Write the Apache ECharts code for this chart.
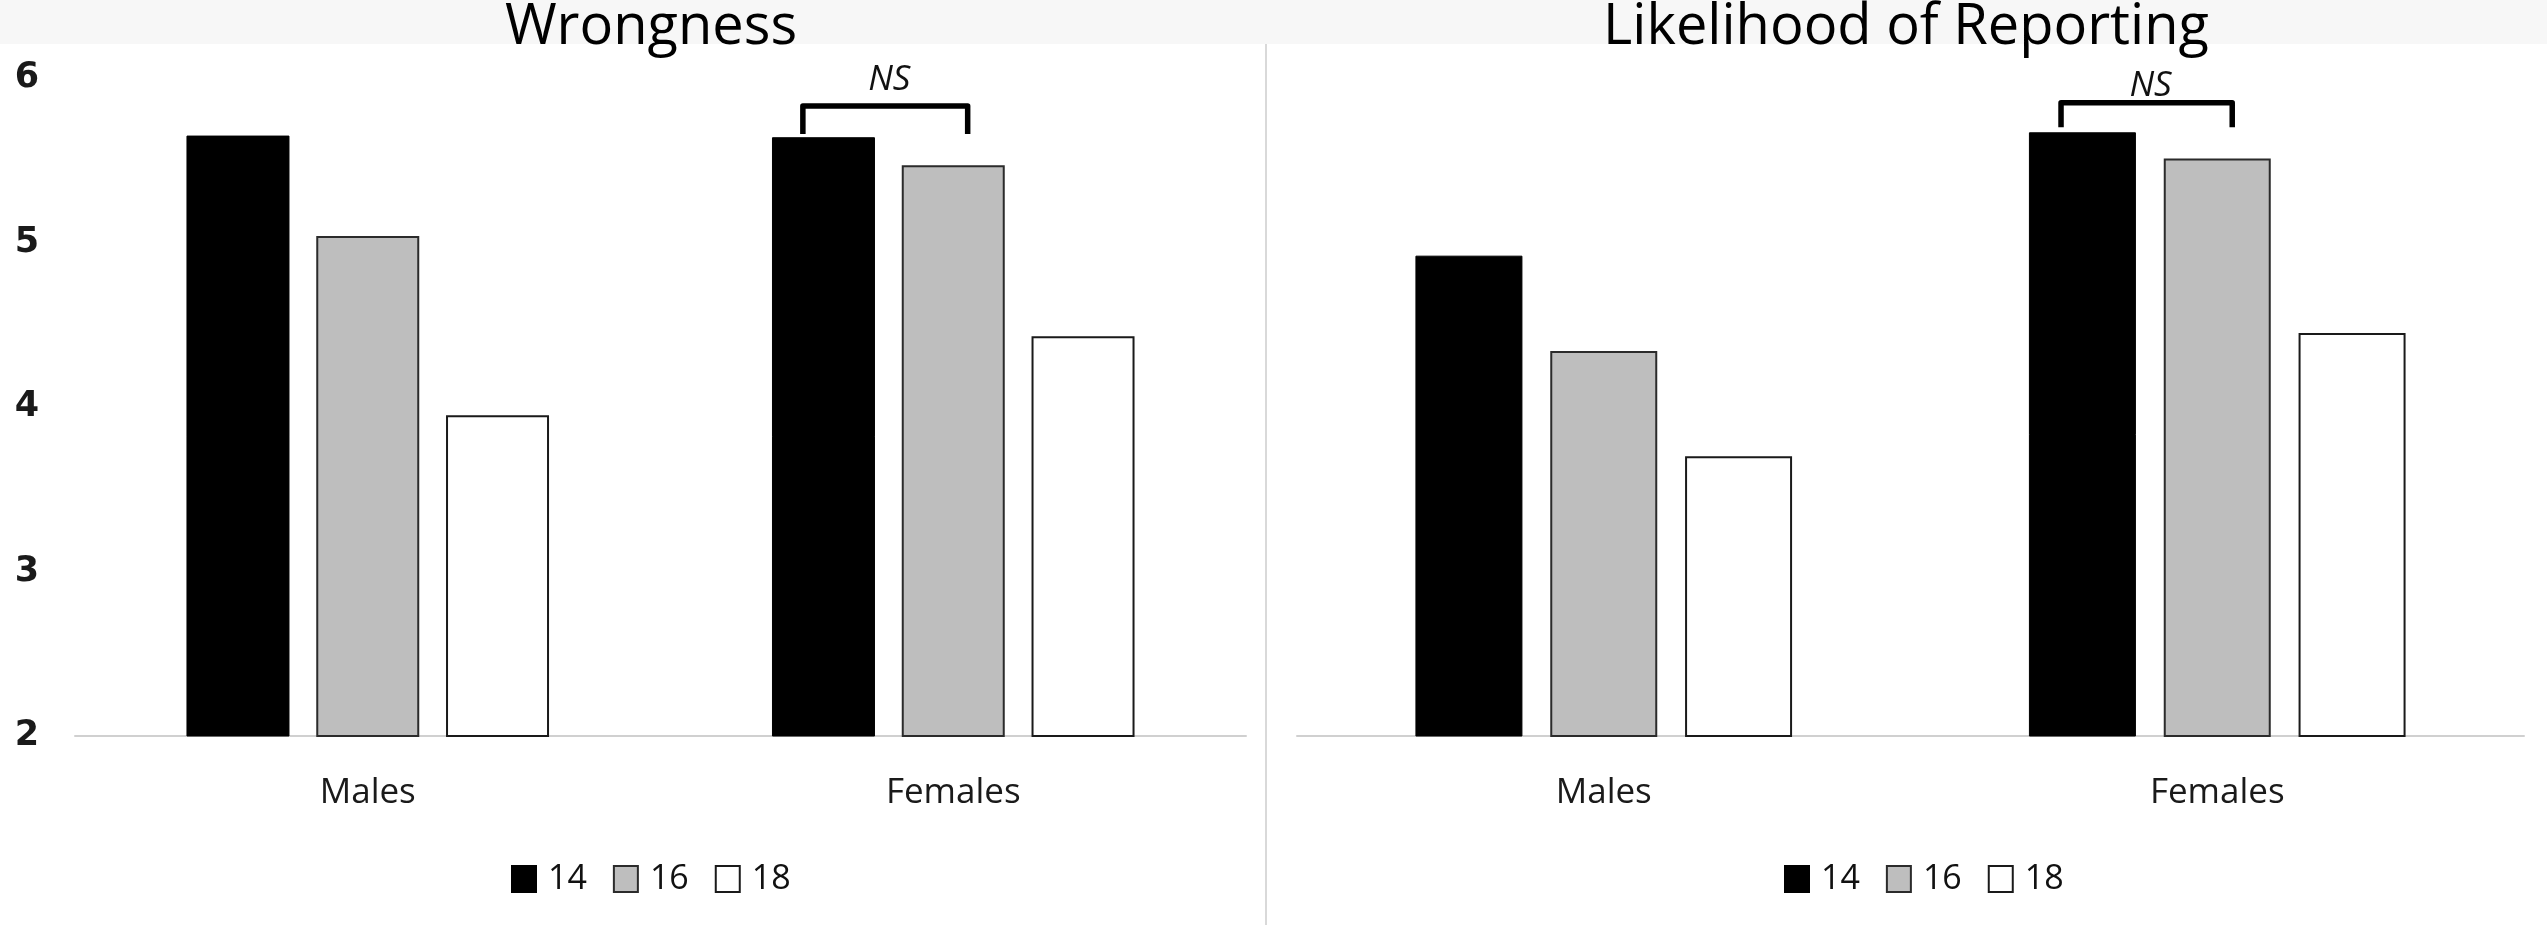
<!DOCTYPE html>
<html>
<head>
<meta charset="utf-8">
<title>Wrongness / Likelihood of Reporting</title>
<script src="https://cdn.jsdelivr.net/npm/echarts@6/dist/echarts.min.js"></script>
<style>
  html, body { margin: 0; padding: 0; background: #fff; }
  #chart { width: 2547px; height: 925px; }
</style>
</head>
<body>
<div id="chart"></div>
<script>
// data
const categories = ['Males', 'Females'];
const ages = ['14', '16', '18'];
const titles = ['Wrongness', 'Likelihood of Reporting'];

const wrongness14 = [5.65, 5.64];
const wrongness16 = [5.04, 5.47];
const wrongness18 = [3.95, 4.43];

const reporting14 = [4.92, 5.67];
const reporting16 = [4.34, 5.51];
const reporting18 = [3.70, 4.45];

const yMin = 2;
const yMax = 6;
const yStep = 1;

// NS brackets: [category index, from bar, to bar, top level, leg end level]
const nsWrongness = [[1, 0, 1, 5.83, 5.66]];
const nsReporting = [[1, 0, 1, 5.85, 5.70]];

const font = 'Open Sans';

const barLooks = [
  { color: '#000000', borderColor: '#000000', borderWidth: 1 },
  { color: '#bebebe', borderColor: '#2b2b2b', borderWidth: 2 },
  { color: '#ffffff', borderColor: '#1a1a1a', borderWidth: 2 }
];

// one entry per panel
const panels = [
  { values: [wrongness14, wrongness16, wrongness18], ns: nsWrongness,
    grid: { left: 75, right: 1301, top: 78, bottom: 189 },
    barWidth: 103, titleX: 651, legendX: 506, nsLift: 26 },
  { values: [reporting14, reporting16, reporting18], ns: nsReporting,
    grid: { left: 1297, right: 23, top: 78, bottom: 189 },
    barWidth: 107, titleX: 1906, legendX: 1779, nsLift: 17 }
];

function bracketRenderer(barW, lift) {
  return function (params, api) {
    const step = barW * 1.26;
    const top = api.coord([api.value(0), api.value(3)]);
    const foot = api.coord([api.value(0), api.value(4)]);
    const x0 = top[0] + (api.value(1) - 1) * step - 0.2 * barW;
    const x1 = top[0] + (api.value(2) - 1) * step + 0.14 * barW;
    return {
      type: 'group',
      children: [
        {
          type: 'polyline',
          shape: { points: [[x0, foot[1]], [x0, top[1]], [x1, top[1]], [x1, foot[1]]] },
          style: { stroke: '#000', lineWidth: 5.5, fill: null, lineJoin: 'round' }
        },
        {
          type: 'text',
          style: {
            text: 'NS', x: (x0 + x1) / 2 + 4, y: top[1] - lift,
            align: 'center', verticalAlign: 'middle',
            font: 'italic 35px "Open Sans"', fill: '#111'
          }
        }
      ]
    };
  };
}

const grids = [];
const xAxes = [];
const yAxes = [];
const series = [];
const titleList = [];
const legends = [];

panels.forEach(function (p, i) {
  grids.push(p.grid);
  xAxes.push({
    type: 'category',
    gridIndex: i,
    data: categories,
    axisLine: { lineStyle: { color: '#d0d0d0', width: 2 } },
    axisTick: { show: false },
    axisLabel: { fontFamily: font, fontSize: 35, color: '#1a1a1a', margin: 40 }
  });
  yAxes.push({
    type: 'value',
    gridIndex: i,
    min: yMin,
    max: yMax,
    interval: yStep,
    splitLine: { show: false },
    axisLine: { show: false },
    axisTick: { show: false },
    axisLabel: {
      show: i === 0,
      fontFamily: 'DejaVu Sans', fontWeight: 'bold', fontSize: 35,
      color: '#1a1a1a', margin: 36
    }
  });
  ages.forEach(function (age, k) {
    series.push({
      name: age,
      type: 'bar',
      xAxisIndex: i,
      yAxisIndex: i,
      data: p.values[k],
      barWidth: p.barWidth,
      barGap: '26%',
      itemStyle: barLooks[k],
      emphasis: { disabled: true },
      animation: false
    });
  });
  series.push({
    type: 'custom',
    xAxisIndex: i,
    yAxisIndex: i,
    data: p.ns,
    renderItem: bracketRenderer(p.barWidth, p.nsLift),
    z: 5,
    silent: true,
    animation: false
  });
  titleList.push({
    text: titles[i],
    left: p.titleX,
    top: 0,
    padding: 0,
    textAlign: 'center',
    textStyle: { fontFamily: font, fontSize: 56, fontWeight: 'normal', color: '#000' }
  });
  legends.push({
    data: ages,
    left: p.legendX,
    top: 857,
    icon: 'rect',
    itemWidth: 24,
    itemHeight: 26,
    itemGap: 26,
    selectedMode: false,
    textStyle: { fontFamily: font, fontSize: 34, color: '#111', padding: [0, 0, 0, 7] }
  });
});

const chart = echarts.init(document.getElementById('chart'), null, { renderer: 'canvas' });
chart.setOption({
  backgroundColor: '#ffffff',
  animation: false,
  title: titleList,
  legend: legends,
  grid: grids,
  xAxis: xAxes,
  yAxis: yAxes,
  series: series,
  graphic: [
    { type: 'rect', z: -10, shape: { x: 0, y: 0, width: 2547, height: 44 }, style: { fill: '#f7f7f7' } },
    { type: 'line', z: -10, shape: { x1: 1266, y1: 44, x2: 1266, y2: 925 }, style: { stroke: '#d9d9d9', lineWidth: 2 } }
  ]
});
</script>
</body>
</html>
